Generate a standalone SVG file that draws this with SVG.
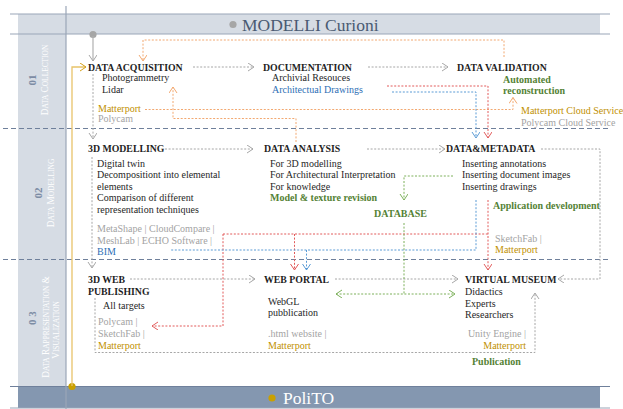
<svg xmlns="http://www.w3.org/2000/svg" width="623" height="409" viewBox="0 0 623 409">
<style>
text{font-family:"Liberation Serif","Times New Roman",serif}
.h{font-size:9.8px;font-weight:bold;fill:#1f1f1f}
.t{font-size:10px;fill:#262626}
.g{font-size:10px;fill:#a3a3a3}
.y{font-size:10px;fill:#bf9000}
.b{font-size:10px;fill:#2e6fb5}
.gr{font-size:10px;font-weight:bold;fill:#548235}
.num{font-size:11px;font-weight:bold;fill:#7d8ca4}
.cap{fill:#ffffff;font-size:9.3px}
.sm{font-size:7.4px}
.dot{fill:none;stroke-width:1;stroke-dasharray:2 1.6}
.gy{stroke:#a6a6a6}
.or{stroke:#f2a870}
.rd{stroke:#e25b5b}
.bl{stroke:#5b9bd5}
.gn{stroke:#7db05a}
</style>
<defs>
<marker id="aGy" markerUnits="userSpaceOnUse" markerWidth="8" markerHeight="10" refX="6" refY="4" orient="auto"><path d="M0,0 L6,4 L0,8" fill="none" stroke="#a6a6a6" stroke-width="1"/></marker>
<marker id="aOr" markerUnits="userSpaceOnUse" markerWidth="8" markerHeight="10" refX="6" refY="4" orient="auto"><path d="M0,0 L6,4 L0,8" fill="none" stroke="#f2a870" stroke-width="1"/></marker>
<marker id="aRd" markerUnits="userSpaceOnUse" markerWidth="8" markerHeight="10" refX="6" refY="4" orient="auto"><path d="M0,0 L6,4 L0,8" fill="none" stroke="#e25b5b" stroke-width="1"/></marker>
<marker id="aBl" markerUnits="userSpaceOnUse" markerWidth="8" markerHeight="10" refX="6" refY="4" orient="auto"><path d="M0,0 L6,4 L0,8" fill="none" stroke="#5b9bd5" stroke-width="1"/></marker>
<marker id="aGn" markerUnits="userSpaceOnUse" markerWidth="8" markerHeight="10" refX="6" refY="4" orient="auto-start-reverse"><path d="M0,0 L6,4 L0,8" fill="none" stroke="#7db05a" stroke-width="1"/></marker>
<marker id="aGd" markerUnits="userSpaceOnUse" markerWidth="8" markerHeight="10" refX="6" refY="4" orient="auto"><path d="M0,0 L6,4 L0,8" fill="none" stroke="#d4a017" stroke-width="1"/></marker>
</defs>
<rect width="623" height="409" fill="#ffffff"/>

<g id="frame">
<rect x="18" y="14" width="582" height="20" fill="#d6dce4"/>
<rect x="18" y="34" width="48" height="352" fill="#d6dce4"/>
<rect x="18" y="386" width="582" height="22" fill="#8497b0"/>
<line x1="10" y1="14" x2="610" y2="14" stroke="#9aa6b8" stroke-width="1.2"/>
<line x1="10" y1="34" x2="610" y2="34" stroke="#9aa6b8" stroke-width="1.2"/>
<line x1="10" y1="386.5" x2="610" y2="386.5" stroke="#6f809b" stroke-width="1"/>
<line x1="10" y1="408" x2="610" y2="408" stroke="#9aa6b8" stroke-width="1.2"/>
<line x1="66" y1="6" x2="66" y2="409" stroke="#9aa6b8" stroke-width="1.2"/>
<line x1="3" y1="128.5" x2="610" y2="128.5" stroke="#6f809b" stroke-dasharray="5 3"/>
<line x1="3" y1="259.5" x2="610" y2="259.5" stroke="#6f809b" stroke-dasharray="5 3"/>
</g>

<g id="title-top">
<circle cx="233" cy="24.5" r="3.6" fill="#a6a6a6"/>
<text x="242" y="31" style="font-size:17.5px;fill:#4a5a72">MODELLI Curioni</text>
</g>
<g id="title-bottom">
<circle cx="272" cy="398" r="3.6" fill="#c9a000"/>
<text x="283" y="404" style="font-size:17.5px;fill:#ffffff">PoliTO</text>
</g>

<g id="phase-01">
<text class="num" transform="translate(31.5,80) rotate(-90)" text-anchor="middle" dominant-baseline="central">01</text>
<text class="cap" transform="translate(47.5,80) rotate(-90)" text-anchor="middle">D<tspan class="sm">ATA</tspan> C<tspan class="sm">OLLECTION</tspan></text>
</g>
<g id="phase-02">
<text class="num" transform="translate(38,193) rotate(-90)" text-anchor="middle" dominant-baseline="central">02</text>
<text class="cap" transform="translate(53.5,193) rotate(-90)" text-anchor="middle">D<tspan class="sm">ATA</tspan>  M<tspan class="sm">ODELLING</tspan></text>
</g>
<g id="phase-03">
<text class="num" transform="translate(32,318) rotate(-90)" text-anchor="middle" dominant-baseline="central">0 3</text>
<text class="cap" transform="translate(48.5,327) rotate(-90)" text-anchor="middle">D<tspan class="sm">ATA</tspan> R<tspan class="sm">APPRESENTATION</tspan> &amp;</text>
<text class="cap" transform="translate(59,330) rotate(-90)" text-anchor="middle">V<tspan class="sm">ISUALIZATION</tspan></text>
</g>

<g id="connectors">
<circle cx="93" cy="34.5" r="3.6" fill="#a6a6a6"/>
<line x1="93" y1="36" x2="93" y2="61" stroke="#b0b0b0" stroke-width="1.2" marker-end="url(#aGy)"/>
<circle cx="72" cy="386.5" r="3.6" fill="#c9a000"/>
<polyline points="72,386 72,67 86,67" fill="none" stroke="#e8c36a" stroke-width="1.3" marker-end="url(#aGd)"/>

<line class="dot gy" x1="193" y1="67" x2="254" y2="67" marker-end="url(#aGy)"/>
<line class="dot gy" x1="368" y1="67" x2="448" y2="67" marker-end="url(#aGy)"/>
<line class="dot gy" x1="93" y1="74" x2="93" y2="139" marker-end="url(#aGy)"/>
<line class="dot gy" x1="165" y1="149" x2="253" y2="149" marker-end="url(#aGy)"/>
<line class="dot gy" x1="367" y1="149" x2="445" y2="149" marker-end="url(#aGy)"/>
<polyline class="dot gy" points="541,149 600,149 600,279 558,279" marker-end="url(#aGy)"/>
<line class="dot gy" x1="92" y1="157" x2="92" y2="268" marker-end="url(#aGy)"/>
<line class="dot gy" x1="130" y1="279" x2="255" y2="279" marker-end="url(#aGy)"/>
<line class="dot gy" x1="335" y1="279" x2="458" y2="279" marker-end="url(#aGy)"/>
<polyline class="dot gy" points="95,298 95,352.5 535,352.5 535,293" marker-end="url(#aGy)"/>

<polyline class="dot or" points="504,57 504,40 143,40 143,61" marker-end="url(#aOr)"/>
<polyline class="dot or" points="145,109.5 513,109.5 513,97.5" marker-end="url(#aOr)"/>
<polyline class="dot or" points="296,142 296,118.5 173,118.5 173,87" marker-end="url(#aOr)"/>

<polyline class="dot rd" points="387,86 488,86 488,138" marker-end="url(#aRd)"/>
<polyline class="dot bl" points="392,92 476,92 476,138" marker-end="url(#aBl)"/>

<line class="dot rd" x1="488" y1="200" x2="488" y2="270" marker-end="url(#aRd)"/>
<line class="dot rd" x1="223" y1="234" x2="488" y2="234"/>
<line class="dot rd" x1="294.5" y1="234" x2="294.5" y2="270" marker-end="url(#aRd)"/>
<polyline class="dot rd" points="223,234 223,326 152,326" marker-end="url(#aRd)"/>

<polyline class="dot bl" points="476,200 476,250 170,250"/>
<line class="dot bl" x1="306.5" y1="250" x2="306.5" y2="270" marker-end="url(#aBl)"/>

<polyline class="dot gn" points="453,176 404,176 404,200" marker-end="url(#aGn)"/>
<line class="dot gn" x1="404" y1="223" x2="404" y2="294"/>
<line class="dot gn" x1="336" y1="294" x2="455" y2="294" marker-start="url(#aGn)" marker-end="url(#aGn)"/>
</g>

<g id="n-data-acquisition">
<text class="h" x="88" y="71">DATA ACQUISITION</text>
<text class="t" x="102" y="81">Photogrammetry</text>
<text class="t" x="102" y="92.5">Lidar</text>
<text class="y" x="98" y="111.5">Matterport</text>
<text class="g" x="98" y="122">Polycam</text>
</g>
<g id="n-documentation">
<text class="h" x="263" y="71">DOCUMENTATION</text>
<text class="t" x="272" y="81">Archivial Resouces</text>
<text class="b" x="272" y="92.5">Architectual Drawings</text>
</g>
<g id="n-data-validation">
<text class="h" x="457" y="70.5">DATA VALIDATION</text>
<text class="gr" x="503" y="82.5">Automated</text>
<text class="gr" x="503" y="93.5">reconstruction</text>
<text class="y" x="521" y="114">Matterport Cloud Service</text>
<text class="g" x="521" y="125.5">Polycam Cloud Service</text>
</g>

<g id="n-3d-modelling">
<text class="h" x="88" y="152">3D MODELLING</text>
<text class="t" x="97" y="166.5">Digital twin</text>
<text class="t" x="97" y="178">Decompositiont into elemental</text>
<text class="t" x="97" y="189.5">elements</text>
<text class="t" x="97" y="201">Comparison of different</text>
<text class="t" x="97" y="212.5">representation techniques</text>
<text class="g" x="97" y="232">MetaShape | CloudCompare |</text>
<text class="g" x="97" y="243.5">MeshLab | ECHO Software |</text>
<text class="b" x="97" y="255">BIM</text>
</g>
<g id="n-data-analysis">
<text class="h" x="264" y="152">DATA ANALYSIS</text>
<text class="t" x="270" y="166.5">For 3D modelling</text>
<text class="t" x="270" y="178">For Architectural Interpretation</text>
<text class="t" x="270" y="189.5">For knowledge</text>
<text class="gr" x="270" y="201">Model &amp; texture revision</text>
</g>
<g id="n-database">
<text class="gr" x="374" y="217">DATABASE</text>
</g>
<g id="n-data-metadata">
<text class="h" x="446" y="152">DATA&amp;METADATA</text>
<text class="t" x="462" y="166.5">Inserting annotations</text>
<text class="t" x="462" y="178">Inserting document images</text>
<text class="t" x="462" y="189.5">Inserting drawings</text>
<text class="gr" x="493" y="208.5">Application development</text>
<text class="g" x="495" y="241.5">SketchFab |</text>
<text class="y" x="495" y="252.5">Matterport</text>
</g>

<g id="n-3d-web-publishing">
<text class="h" x="88" y="282.5">3D WEB</text>
<text class="h" x="88" y="294.5">PUBLISHING</text>
<text class="t" x="103" y="309">All targets</text>
<text class="g" x="98" y="325">Polycam |</text>
<text class="g" x="98" y="336.5">SketchFab |</text>
<text class="y" x="98" y="348.5">Matterport</text>
</g>
<g id="n-web-portal">
<text class="h" x="264" y="282.5">WEB PORTAL</text>
<text class="t" x="268" y="304.5">WebGL</text>
<text class="t" x="268" y="316">pubblication</text>
<text class="g" x="268" y="336.5">.html website |</text>
<text class="y" x="268" y="348.5">Matterport</text>
</g>
<g id="n-virtual-museum">
<text class="h" x="465" y="282.5">VIRTUAL MUSEUM</text>
<text class="t" x="465" y="295">Didactics</text>
<text class="t" x="465" y="306.5">Experts</text>
<text class="t" x="465" y="318">Researchers</text>
<text class="g" x="526" y="336.5" text-anchor="end">Unity Engine |</text>
<text class="y" x="526" y="348.5" text-anchor="end">Matterport</text>
<text class="gr" x="472" y="365">Publication</text>
</g>
</svg>
